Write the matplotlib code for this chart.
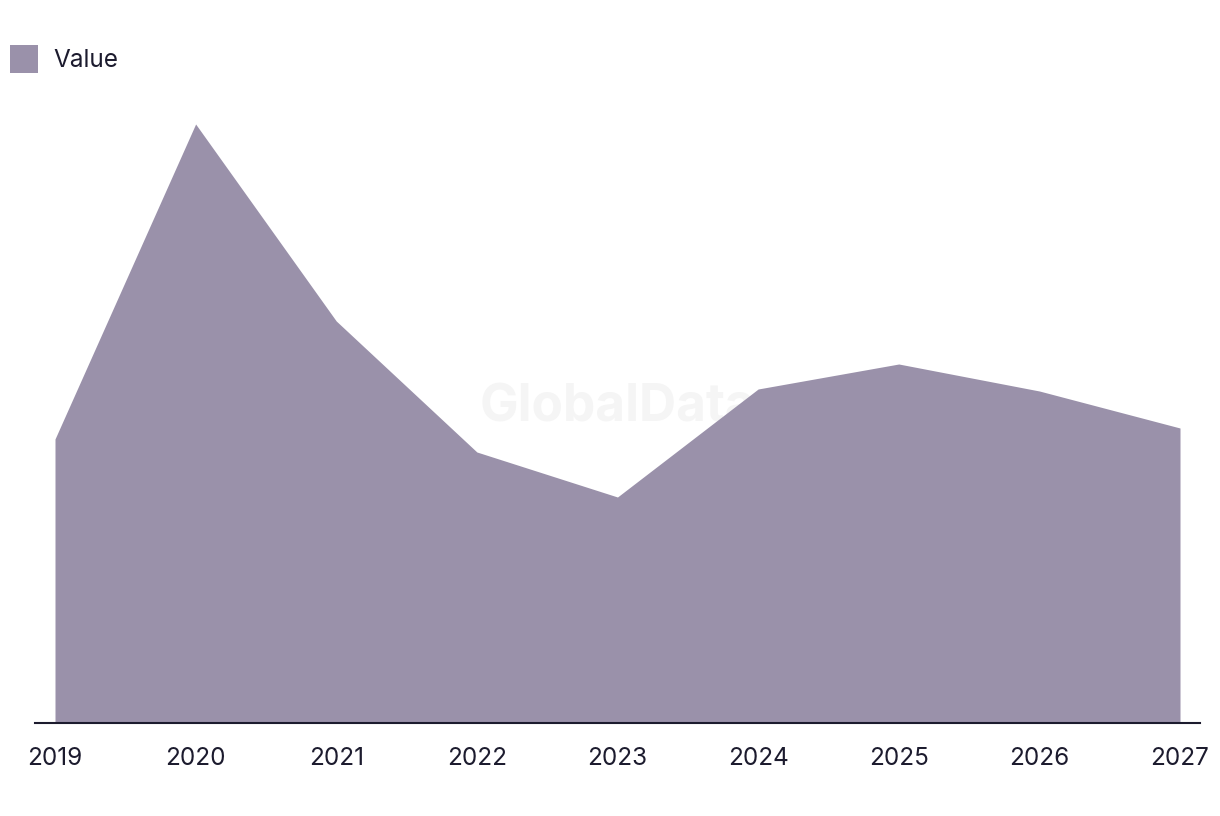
import numpy as np
import matplotlib.pyplot as plt

plt.rcParams['font.family'] = ['Inter', 'DejaVu Sans']

years = [2019, 2020, 2021, 2022, 2023, 2024, 2025, 2026, 2027]
values = [284, 599, 402, 271, 226, 334, 359, 332, 295]

AREA = "#9a91aa"
TEXT = "#1c1b2e"

fig = plt.figure(figsize=(12.2, 8.16), dpi=100)
ax = fig.add_axes([35 / 1220, 1 - 723 / 816, 1165 / 1220, 623 / 816])

area = ax.fill_between(years, values, 0, color=AREA, linewidth=0, label="Value", zorder=2)

# faint watermark behind the area
ax.text(0.5, 0.505, "GlobalData", transform=ax.transAxes, ha="center", va="center",
        fontsize=37, fontweight="bold", color="#f5f5f5", zorder=1)

step = (1180 - 55) / 8
ax.set_xlim(2019 - 20 / step, 2027 + 20 / step)
ax.set_ylim(0, 623)
ax.set_xticks(years)
ax.set_xticklabels([str(y) for y in years])
ax.tick_params(axis="x", length=0, pad=17, labelsize=17.5, labelcolor=TEXT)
ax.set_yticks([])
for s in ["top", "right", "left"]:
    ax.spines[s].set_visible(False)
ax.spines["bottom"].set_color(TEXT)
ax.spines["bottom"].set_linewidth(1.5)
ax.spines["bottom"].set_zorder(3)

fig.legend(handles=[area], loc="upper left", bbox_to_anchor=(1 / 1220, 1 - 36 / 816),
           frameon=False, fontsize=17.5, handlelength=1.17, handleheight=1.45,
           handletextpad=0.65, labelcolor=TEXT, borderaxespad=0, borderpad=0.35)

fig.savefig("out.png", dpi=100)
